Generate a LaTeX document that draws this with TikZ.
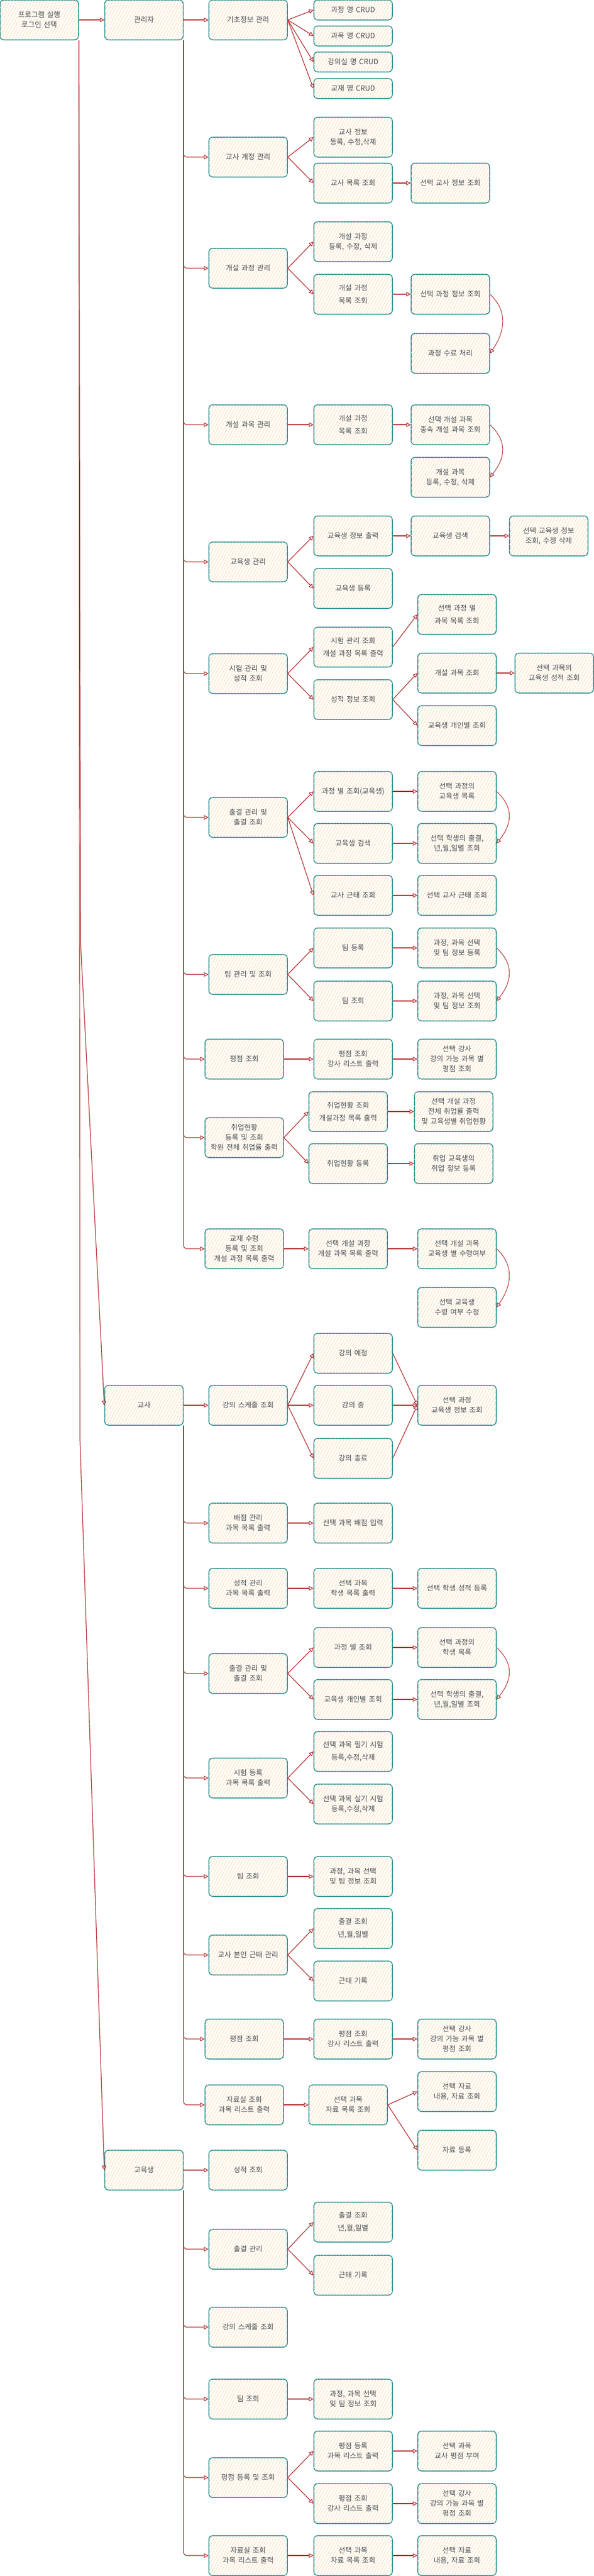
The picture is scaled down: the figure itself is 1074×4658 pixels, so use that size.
\documentclass[tikz,border=0pt]{standalone}
\usepackage{fontspec}
\newfontfamily\krfont{Noto Sans CJK KR}
\usetikzlibrary{arrows.meta,patterns.meta,calc}
\definecolor{teal0}{HTML}{1A8A8C}
\definecolor{red0}{HTML}{B32A2A}
\definecolor{peachbg}{HTML}{FFFDF9}
\definecolor{peachln}{HTML}{F8D6AE}
\definecolor{txt}{HTML}{474D53}
\newcommand\boxfont{\krfont\fontsize{13}{18}\selectfont\spaceskip=4.5pt\relax}
\tikzset{
  box/.style={draw=teal0, line width=1.5pt, rounded corners=7pt, fill=peachbg,
    postaction={pattern={Lines[angle=62,distance=5pt,line width=0.6pt]}, pattern color=peachln},
    minimum width=142pt, minimum height=72pt, inner sep=1pt, align=center, text=txt, font=\boxfont},
  sbox/.style={box, minimum height=36pt},
  arr/.style={draw=red0, line width=1.2pt, -{Triangle[open,length=8pt,width=8pt,line width=1.1pt]}},
  elb/.style={arr, rounded corners=6pt},
  curvearr/.style={arr, line width=1pt},
}
\begin{document}
\begin{tikzpicture}[x=1pt,y=-1pt]
\useasboundingbox (0,0) rectangle (1074,4658);
\def\CA{71}\def\CB{260.5}\def\CC{449}\def\CCs{442}\def\CD{639}\def\CDs{630}
\def\CEa{815}\def\CEb{827}\def\CEs{821}\def\CFa{993}\def\CFb{1003}
% ---------- admin ----------
\node[box] (start) at (\CA,36) {프로그램 실행\\로그인 선택};
\node[box] (adm) at (\CB,36) {관리자};
\node[box] (a1) at (\CC,36) {기초정보 관리};
\node[sbox] (a1a) at (\CD,18) {과정 명 CRUD};
\node[sbox] (a1b) at (\CD,65) {과목 명 CRUD};
\node[sbox] (a1c) at (\CD,112) {강의실 명 CRUD};
\node[sbox] (a1d) at (\CD,160) {교재 명 CRUD};
\node[box] (a2) at (\CC,284) {교사 계정 관리};
\node[box] (a2a) at (\CD,248) {교사 정보\\등록, 수정,삭제};
\node[box] (a2b) at (\CD,331) {교사 목록 조회};
\node[box] (a2c) at (\CEa,331) {선택 교사 정보 조회};
\node[box] (a3) at (\CC,485) {개설 과정 관리};
\node[box] (a3a) at (\CD,437) {개설 과정\\등록, 수정, 삭제};
\node[box] (a3b) at (\CD,532) {개설 과정\\[5pt]목록 조회};
\node[box] (a3c) at (\CEa,532) {선택 과정 정보 조회};
\node[box] (a3d) at (\CEa,639) {과정 수료 처리};
\node[box] (a4) at (\CC,768) {개설 과목 관리};
\node[box] (a4a) at (\CD,768) {개설 과정\\[5pt]목록 조회};
\node[box] (a4b) at (\CEa,768) {선택 개설 과목\\종속 개설 과목 조회};
\node[box] (a4c) at (\CEa,863) {개설 과목\\등록, 수정, 삭제};
\node[box] (a5) at (\CC,1016) {교육생 관리};
\node[box] (a5a) at (\CD,969) {교육생 정보 출력};
\node[box] (a5b) at (\CEa,969) {교육생 검색};
\node[box] (a5c) at (\CFa,969) {선택 교육생 정보\\조회, 수정 삭제};
\node[box] (a5d) at (\CD,1064) {교육생 등록};
\node[box] (a6) at (\CC,1218) {시험 관리 및\\성적 조회};
\node[box] (a6a) at (\CD,1170) {시험 관리 조회\\[5pt]개설 과정 목록 출력};
\node[box] (a6b) at (\CEb,1111) {선택 과정 별\\[5pt]과목 목록 조회};
\node[box] (a6c) at (\CD,1265) {성적 정보 조회};
\node[box] (a6d) at (\CEb,1217) {개설 과목 조회};
\node[box] (a6e) at (\CFb,1217) {선택 과목의\\교육생 성적 조회};
\node[box] (a6f) at (\CEb,1312) {교육생 개인별 조회};
\node[box] (a7) at (\CC,1478) {출결 관리 및\\출결 조회};
\node[box] (a7a) at (\CD,1431) {과정 별 조회(교육생)};
\node[box] (a7b) at (\CEb,1431) {선택 과정의\\교육생 목록};
\node[box] (a7c) at (\CD,1525) {교육생 검색};
\node[box] (a7d) at (\CEb,1525) {선택 학생의 출결,\\년,월,일별 조회};
\node[box] (a7e) at (\CD,1619) {교사 근태 조회};
\node[box] (a7f) at (\CEb,1619) {선택 교사 근태 조회};
\node[box] (a8) at (\CC,1762) {팀 관리 및 조회};
\node[box] (a8a) at (\CD,1714) {팀 등록};
\node[box] (a8b) at (\CEb,1714) {과정, 과목 선택\\및 팀 정보 등록};
\node[box] (a8c) at (\CD,1810) {팀 조회};
\node[box] (a8d) at (\CEb,1810) {과정, 과목 선택\\및 팀 정보 조회};
\node[box] (a9) at (\CCs,1915) {평점 조회};
\node[box] (a9a) at (\CD,1915) {평점 조회\\강사 리스트 출력};
\node[box] (a9b) at (\CEb,1915) {선택 강사\\강의 가능 과목 별\\평점 조회};
\node[box] (a10) at (\CCs,2057) {취업현황\\등록 및 조회\\학원 전체 취업률 출력};
\node[box] (a10a) at (\CDs,2010) {취업현황 조회\\[5pt]개설과정 목록 출력};
\node[box] (a10b) at (\CEs,2010) {선택 개설 과정\\전체 취업률 출력\\및 교육생별 취업현황};
\node[box] (a10c) at (\CDs,2104) {취업현황 등록};
\node[box] (a10d) at (\CEs,2104) {취업 교육생의\\취업 정보 등록};
\node[box] (a11) at (\CCs,2258) {교재 수령\\등록 및 조회\\개설 과정 목록 출력};
\node[box] (a11a) at (\CDs,2258) {선택 개설 과정\\개설 과목 목록 출력};
\node[box] (a11b) at (\CEb,2258) {선택 개설 과목\\교육생 별 수령여부};
\node[box] (a11c) at (\CEb,2364) {선택 교육생\\수령 여부 수정};
% ---------- teacher ----------
\node[box] (tch) at (\CB,2541) {교사};
\node[box] (t1) at (\CC,2541) {강의 스케줄 조회};
\node[box] (t1a) at (\CD,2447) {강의 예정};
\node[box] (t1b) at (\CD,2541) {강의 중};
\node[box] (t1c) at (\CD,2637) {강의 종료};
\node[box] (t1d) at (\CEb,2541) {선택 과정\\교육생 정보 조회};
\node[box] (t2) at (\CC,2754) {배점 관리\\과목 목록 출력};
\node[box] (t2a) at (\CD,2754) {선택 과목 배점 입력};
\node[box] (t3) at (\CC,2872) {성적 관리\\과목 목록 출력};
\node[box] (t3a) at (\CD,2872) {선택 과목\\학생 목록 출력};
\node[box] (t3b) at (\CEb,2872) {선택 학생 성적 등록};
\node[box] (t4) at (\CC,3026) {출결 관리 및\\출결 조회};
\node[box] (t4a) at (\CD,2979) {과정 별 조회};
\node[box] (t4b) at (\CEb,2979) {선택 과정의\\학생 목록};
\node[box] (t4c) at (\CD,3073) {교육생 개인별 조회};
\node[box] (t4d) at (\CEb,3073) {선택 학생의 출결,\\년,월,일별 조회};
\node[box] (t5) at (\CC,3215) {시험 등록\\과목 목록 출력};
\node[box] (t5a) at (\CD,3167) {선택 과목 필기 시험\\[5pt]등록,수정,삭제};
\node[box] (t5b) at (\CD,3262) {선택 과목 실기 시험\\등록,수정,삭제};
\node[box] (t6) at (\CC,3393) {팀 조회};
\node[box] (t6a) at (\CD,3393) {과정, 과목 선택\\및 팀 정보 조회};
\node[box] (t7) at (\CC,3535) {교사 본인 근태 관리};
\node[box] (t7a) at (\CD,3487) {출결 조회\\[5pt]년,월,일별};
\node[box] (t7b) at (\CD,3582) {근태 기록};
\node[box] (t8) at (\CCs,3687) {평점 조회};
\node[box] (t8a) at (\CD,3687) {평점 조회\\강사 리스트 출력};
\node[box] (t8b) at (\CEb,3687) {선택 강사\\강의 가능 과목 별\\평점 조회};
\node[box] (t9) at (\CCs,3806) {자료실 조회\\과목 리스트 출력};
\node[box] (t9a) at (\CDs,3806) {선택 과목\\자료 목록 조회};
\node[box] (t9b) at (\CEb,3782) {선택 자료\\내용, 자료 조회};
\node[box] (t9c) at (\CEb,3888) {자료 등록};
% ---------- student ----------
\node[box] (stu) at (\CB,3924) {교육생};
\node[box] (s1) at (\CC,3924) {성적 조회};
\node[box] (s2) at (\CC,4067) {출결 관리};
\node[box] (s2a) at (\CD,4018) {출결 조회\\[5pt]년,월,일별};
\node[box] (s2b) at (\CD,4114) {근태 기록};
\node[box] (s3) at (\CC,4208) {강의 스케줄 조회};
\node[box] (s4) at (\CC,4338) {팀 조회};
\node[box] (s4a) at (\CD,4338) {과정, 과목 선택\\및 팀 정보 조회};
\node[box] (s5) at (\CC,4480) {평점 등록 및 조회};
\node[box] (s5a) at (\CD,4432) {평점 등록\\과목 리스트 출력};
\node[box] (s5b) at (\CEb,4432) {선택 과목\\교사 평점 부여};
\node[box] (s5c) at (\CD,4527) {평점 조회\\강사 리스트 출력};
\node[box] (s5d) at (\CEb,4527) {선택 강사\\강의 가능 과목 별\\평점 조회};
\node[box] (s6) at (\CC,4621) {자료실 조회\\과목 리스트 출력};
\node[box] (s6a) at (\CD,4621) {선택 과목\\자료 목록 조회};
\node[box] (s6b) at (\CEb,4621) {선택 자료\\내용, 자료 조회};
% ---------- connectors: roles ----------
\draw[arr] (start) -- (adm);
\draw[arr] (start.south east) -- ++(3,1630) -- (tch.west);
\draw[arr] (start.south east) -- ++(2,2530) -- (stu.west);
\draw[arr] (adm) -- (a1);
\foreach \c in {a2,a3,a4,a5,a6,a7,a8,a9,a10,a11}
  \draw[elb] (adm.south east) |- (\c.west);
\draw[arr] (tch) -- (t1);
\foreach \c in {t2,t3,t4,t5,t6,t7,t8,t9}
  \draw[elb] (tch.south east) |- (\c.west);
\draw[arr] (stu) -- (s1);
\foreach \c in {s2,s3,s4,s5,s6}
  \draw[elb] (stu.south east) |- (\c.west);
% ---------- admin sub arrows ----------
\foreach \c in {a1a,a1b,a1c,a1d} \draw[arr] (a1.east) -- (\c.west);
\draw[arr] (a2.east) -- (a2a.west);
\draw[arr] (a2.east) -- (a2b.west);
\draw[arr] (a2b) -- (a2c);
\draw[arr] (a3.east) -- (a3a.west);
\draw[arr] (a3.east) -- (a3b.west);
\draw[arr] (a3b) -- (a3c);
\draw[curvearr] (a3c.east) .. controls +(32,30) and +(28,-40) .. (a3d.east);
\draw[arr] (a4) -- (a4a);
\draw[arr] (a4a) -- (a4b);
\draw[curvearr] (a4b.east) .. controls +(32,30) and +(28,-35) .. (a4c.east);
\draw[arr] (a5.east) -- (a5a.west);
\draw[arr] (a5.east) -- (a5d.west);
\draw[arr] (a5a) -- (a5b);
\draw[arr] (a5b) -- (a5c);
\draw[arr] (a6.east) -- (a6a.west);
\draw[arr] (a6.east) -- (a6c.west);
\draw[arr] (a6a.east) -- (a6b.west);
\draw[arr] (a6c.east) -- (a6d.west);
\draw[arr] (a6c.east) -- (a6f.west);
\draw[arr] (a6d) -- (a6e);
\draw[arr] (a7.east) -- (a7a.west);
\draw[arr] (a7.east) -- (a7c.west);
\draw[arr] (a7.east) -- (a7e.west);
\draw[arr] (a7a) -- (a7b);
\draw[arr] (a7c) -- (a7d);
\draw[arr] (a7e) -- (a7f);
\draw[curvearr] (a7b.east) .. controls +(32,30) and +(28,-35) .. (a7d.east);
\draw[arr] (a8.east) -- (a8a.west);
\draw[arr] (a8.east) -- (a8c.west);
\draw[arr] (a8a) -- (a8b);
\draw[arr] (a8c) -- (a8d);
\draw[curvearr] (a8b.east) .. controls +(32,30) and +(28,-35) .. (a8d.east);
\draw[arr] (a9) -- (a9a);
\draw[arr] (a9a) -- (a9b);
\draw[arr] (a10.east) -- (a10a.west);
\draw[arr] (a10.east) -- (a10c.west);
\draw[arr] (a10a) -- (a10b);
\draw[arr] (a10c) -- (a10d);
\draw[arr] (a11) -- (a11a);
\draw[arr] (a11a) -- (a11b);
\draw[curvearr] (a11b.east) .. controls +(32,30) and +(28,-40) .. (a11c.east);
% ---------- teacher sub arrows ----------
\foreach \c in {t1a,t1b,t1c} {\draw[arr] (t1.east) -- (\c.west); \draw[arr] (\c.east) -- (t1d.west);}
\draw[arr] (t2) -- (t2a);
\draw[arr] (t3) -- (t3a);
\draw[arr] (t3a) -- (t3b);
\draw[arr] (t4.east) -- (t4a.west);
\draw[arr] (t4.east) -- (t4c.west);
\draw[arr] (t4a) -- (t4b);
\draw[arr] (t4c) -- (t4d);
\draw[curvearr] (t4b.east) .. controls +(32,30) and +(28,-35) .. (t4d.east);
\draw[arr] (t5.east) -- (t5a.west);
\draw[arr] (t5.east) -- (t5b.west);
\draw[arr] (t6) -- (t6a);
\draw[arr] (t7.east) -- (t7a.west);
\draw[arr] (t7.east) -- (t7b.west);
\draw[arr] (t8) -- (t8a);
\draw[arr] (t8a) -- (t8b);
\draw[arr] (t9) -- (t9a);
\draw[arr] (t9a.east) -- (t9b.west);
\draw[arr] (t9a.east) -- (t9c.west);
% ---------- student sub arrows ----------
\draw[arr] (s2.east) -- (s2a.west);
\draw[arr] (s2.east) -- (s2b.west);
\draw[arr] (s4) -- (s4a);
\draw[arr] (s5.east) -- (s5a.west);
\draw[arr] (s5.east) -- (s5c.west);
\draw[arr] (s5a) -- (s5b);
\draw[arr] (s5c) -- (s5d);
\draw[arr] (s6) -- (s6a);
\draw[arr] (s6a) -- (s6b);
\end{tikzpicture}
\end{document}
